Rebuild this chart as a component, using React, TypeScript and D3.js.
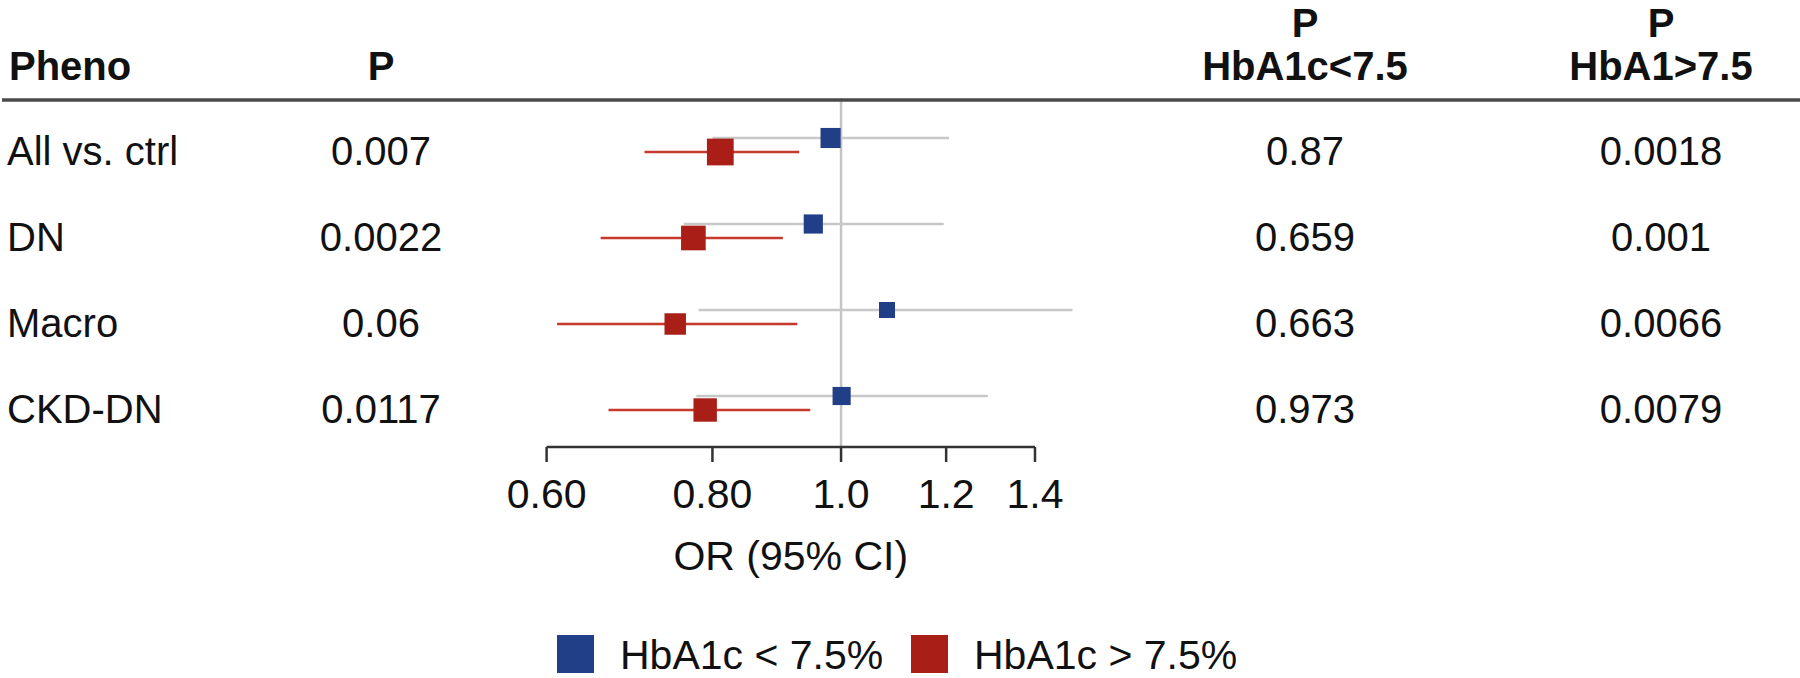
import React from "react";
import * as d3 from "d3";

const phenos = ["All vs. ctrl", "DN", "Macro", "CKD-DN"];
const pAll = ["0.007", "0.0022", "0.06", "0.0117"];
const pLow = ["0.87", "0.659", "0.663", "0.973"];
const pHigh = ["0.0018", "0.001", "0.0066", "0.0079"];

// HbA1c < 7.5% (blue)
const lowOR = [0.982, 0.953, 1.083, 1.001];
const lowLo = [0.8, 0.761, 0.781, 0.778];
const lowHi = [1.206, 1.195, 1.494, 1.29];
// HbA1c > 7.5% (red)
const highOR = [0.811, 0.774, 0.75, 0.79];
const highLo = [0.711, 0.659, 0.611, 0.668];
const highHi = [0.93, 0.904, 0.927, 0.948];

const ticks = [0.6, 0.8, 1.0, 1.2, 1.4];
const tickLabels = ["0.60", "0.80", "1.0", "1.2", "1.4"];
const legendLabels = ["HbA1c < 7.5%", "HbA1c > 7.5%"];

const W = 1800;
const H = 678;
const FONT = "'Liberation Sans', Arial, Helvetica, sans-serif";
const BLUE = "#213f86";
const RED = "#a91f17";
const GRAY_CI = "#c8c8c8";
const RED_CI = "#c63a2e";

export default function App() {
  const x = d3.scaleLog().domain([0.6, 1.4]).range([546.6, 1035]);
  const y = d3.scalePoint<string>().domain(phenos).range([150, 408]);
  const axisY = 447;
  const ruleY = 100;
  const size = (lo: number, hi: number) =>
    9.8 / Math.sqrt((Math.log(hi) - Math.log(lo)) / 2);

  const series = [
    { or: lowOR, lo: lowLo, hi: lowHi, fill: BLUE, ci: GRAY_CI, dy: -12, k: 0.93 },
    { or: highOR, lo: highLo, hi: highHi, fill: RED, ci: RED_CI, dy: 2, k: 1.0 },
  ];

  const textStyle: React.CSSProperties = { fontFamily: FONT, fontSize: 40, fill: "#111" };
  const headStyle: React.CSSProperties = { fontFamily: FONT, fontSize: 40, fontWeight: "bold", fill: "#111" };

  return (
    <svg
      width={W}
      height={H}
      style={{ position: "absolute", left: 0, top: 0, background: "#fff" }}
    >
      {/* headers */}
      <text x={9} y={80} style={headStyle}>Pheno</text>
      <text x={381} y={80} textAnchor="middle" style={headStyle}>P</text>
      <text x={1305} y={37} textAnchor="middle" style={headStyle}>P</text>
      <text x={1305} y={80} textAnchor="middle" style={headStyle}>HbA1c&lt;7.5</text>
      <text x={1661} y={37} textAnchor="middle" style={headStyle}>P</text>
      <text x={1661} y={80} textAnchor="middle" style={headStyle}>HbA1&gt;7.5</text>

      {/* reference line at OR = 1 */}
      <line x1={x(1)} x2={x(1)} y1={ruleY - 2} y2={axisY} stroke="#c4c4c4" strokeWidth={2.5} />

      {/* header rule */}
      <line x1={2} x2={W} y1={ruleY} y2={ruleY} stroke="#4a4a4a" strokeWidth={3.5} />

      {/* rows */}
      {phenos.map((p, i) => {
        const cy = y(p)!;
        return (
          <g key={p}>
            <text x={7} y={cy + 15} style={textStyle}>{p}</text>
            <text x={381} y={cy + 15} textAnchor="middle" style={textStyle}>{pAll[i]}</text>
            <text x={1305} y={cy + 15} textAnchor="middle" style={textStyle}>{pLow[i]}</text>
            <text x={1661} y={cy + 15} textAnchor="middle" style={textStyle}>{pHigh[i]}</text>
            {series.map((s, j) => {
              const yy = cy + s.dy;
              const sz = size(s.lo[i], s.hi[i]) * s.k;
              return (
                <g key={j}>
                  <line
                    x1={x(s.lo[i])}
                    x2={x(s.hi[i])}
                    y1={yy}
                    y2={yy}
                    stroke={s.ci}
                    strokeWidth={2.5}
                  />
                  <rect
                    x={x(s.or[i]) - sz / 2}
                    y={yy - sz / 2}
                    width={sz}
                    height={sz}
                    fill={s.fill}
                  />
                </g>
              );
            })}
          </g>
        );
      })}

      {/* x axis */}
      <line x1={x(0.6)} x2={x(1.4)} y1={axisY} y2={axisY} stroke="#333" strokeWidth={2.5} />
      {ticks.map((t, i) => (
        <g key={t}>
          <line x1={x(t)} x2={x(t)} y1={axisY} y2={axisY + 15} stroke="#333" strokeWidth={2.5} />
          <text
            x={x(t)}
            y={508}
            textAnchor="middle"
            style={{ fontFamily: FONT, fontSize: 41, fill: "#111" }}
          >
            {tickLabels[i]}
          </text>
        </g>
      ))}
      <text
        x={(x(0.6) + x(1.4)) / 2}
        y={570}
        textAnchor="middle"
        style={{ fontFamily: FONT, fontSize: 41, fill: "#111" }}
      >
        OR (95% CI)
      </text>

      {/* legend */}
      <rect x={557} y={635} width={37} height={38} fill={BLUE} />
      <text x={620} y={669} style={{ fontFamily: FONT, fontSize: 41, fill: "#111" }}>
        {legendLabels[0]}
      </text>
      <rect x={911} y={635} width={37} height={38} fill={RED} />
      <text x={974} y={669} style={{ fontFamily: FONT, fontSize: 41, fill: "#111" }}>
        {legendLabels[1]}
      </text>
    </svg>
  );
}
